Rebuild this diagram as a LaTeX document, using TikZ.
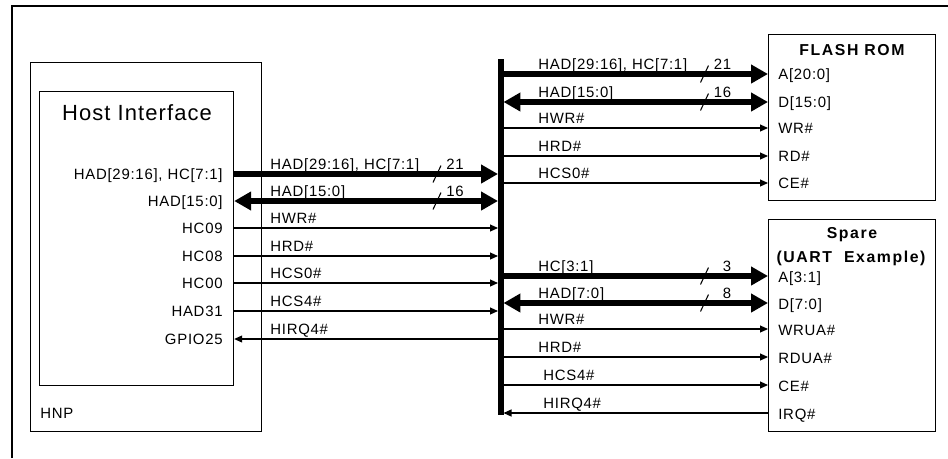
\documentclass[tikz,border=0pt]{standalone}
\usepackage{fontspec}
\setmainfont{Liberation Sans}[LetterSpace=5]
\newfontfamily\headfont{Liberation Sans}[LetterSpace=10]
\usetikzlibrary{arrows.meta}
\tikzset{
  sig/.style={font=\fontsize{8.5}{10}\selectfont, inner sep=0pt},
  head/.style={font=\headfont\bfseries\fontsize{9}{10}\selectfont, inner sep=0pt},
  block/.style={draw, line width=0.7pt, anchor=north west, inner sep=0pt},
  fat/.style={line width=3pt},
  fatto/.style={fat, -{Triangle[length=0.34cm,width=0.36cm]}},
  fatboth/.style={fat, {Triangle[length=0.34cm,width=0.36cm]}-{Triangle[length=0.34cm,width=0.36cm]}},
  wire/.style={line width=0.6pt, -{Triangle[length=0.16cm,width=0.14cm]}},
  wireback/.style={line width=0.6pt, {Triangle[length=0.16cm,width=0.14cm]}-},
  tick/.style={line width=0.6pt},
}
\begin{document}
\begin{tikzpicture}[x=0.02cm, y=-0.02cm]
  \useasboundingbox (0,0) rectangle (948,458);
  % outer frame (only top and left edge visible)
  \draw[line width=0.6pt] (12,458) -- (12,6) -- (948,6);

  % blocks
  \node[block, minimum width=4.62cm, minimum height=7.38cm] (hnp) at (30,62) {};
  \node[block, minimum width=3.88cm, minimum height=5.88cm] (host) at (39,91) {};
  \node[block, minimum width=3.34cm, minimum height=3.32cm] (flash) at (768,34) {};
  \node[block, minimum width=3.34cm, minimum height=4.24cm] (spare) at (768,219) {};

  % block titles
  \node[font=\fontsize{12.5}{15}\selectfont, inner sep=0pt] (hosttitle) at (137,113) {Host Interface};
  \node[sig, anchor=base west] (hnptitle) at (40,418.3) {HNP};
  \node[head, anchor=base] (flashtitle) at (852,55.7) {FLASH ROM};
  \node[head, anchor=base] (sparetitle) at (852,238.7) {Spare};
  \node[head, anchor=base] (sparesub) at (851,262.7) {(UART\ \ Example)};

  % backbone bus
  \coordinate (bustop) at (501,59);
  \coordinate (busbot) at (501,415);
  \draw[line width=3.1pt] (bustop) -- (busbot);
  \coordinate (busL) at (498,0);
  \coordinate (busR) at (503.5,0);

  % host side signals
  \foreach \n/\y/\pin/\lab/\kind in {
      1/174/{HAD[29:16], HC[7:1]}/{HAD[29:16], HC[7:1]}/fatto,
      2/201/{HAD[15:0]}/{HAD[15:0]}/fatboth,
      3/228/HC09/HWR\#/wire,
      4/256/HC08/HRD\#/wire,
      5/283/HC00/HCS0\#/wire,
      6/311/HAD31/HCS4\#/wire,
      7/339/GPIO25/HIRQ4\#/wireback}{
    \coordinate (h\n) at (0,\y);
    \node[sig, anchor=base east] (hpin\n) at (223,\y+5.3) {\pin};
    \node[sig, anchor=base west] (hlab\n) at (270,\y-5) {\lab};
    \draw[\kind] (host.east |- h\n) -- (busL |- h\n);
  }

  % flash rom signals
  \foreach \n/\y/\lab/\port/\kind in {
      1/74/{HAD[29:16], HC[7:1]}/{A[20:0]}/fatto,
      2/102/{HAD[15:0]}/{D[15:0]}/fatboth,
      3/128/HWR\#/WR\#/wire,
      4/156/HRD\#/RD\#/wire,
      5/183/HCS0\#/CE\#/wire}{
    \coordinate (f\n) at (0,\y);
    \node[sig, anchor=base west] (flab\n) at (538,\y-5) {\lab};
    \node[sig, anchor=base west] (fport\n) at (778,\y+5.3) {\port};
    \draw[\kind] (busR |- f\n) -- (flash.west |- f\n);
  }

  % spare (uart) signals
  \foreach \n/\y/\x/\lab/\port/\kind in {
      1/276/538/{HC[3:1]}/{A[3:1]}/fatto,
      2/303/538/{HAD[7:0]}/{D[7:0]}/fatboth,
      3/329/538/HWR\#/WRUA\#/wire,
      4/357/538/HRD\#/RDUA\#/wire,
      5/385/543/HCS4\#/CE\#/wire,
      6/413/543/HIRQ4\#/IRQ\#/wireback}{
    \coordinate (s\n) at (0,\y);
    \node[sig, anchor=base west] (slab\n) at (\x,\y-5) {\lab};
    \node[sig, anchor=base west] (sport\n) at (778,\y+6) {\port};
    \draw[\kind] (busR |- s\n) -- (spare.west |- s\n);
  }

  % bus width ticks
  \foreach \n/\x/\y/\w in {1/437/174/21, 2/437/201/16, 3/704.5/74/21,
      4/704.5/102/16, 5/704.5/276/3, 6/704.5/303/8}{
    \draw[tick] (\x-4,\y+8.5) -- (\x+4,\y-8.5);
    \node[sig, anchor=base east] (width\n) at (\x+27,\y-5) {\w};
  }
\end{tikzpicture}
\end{document}
